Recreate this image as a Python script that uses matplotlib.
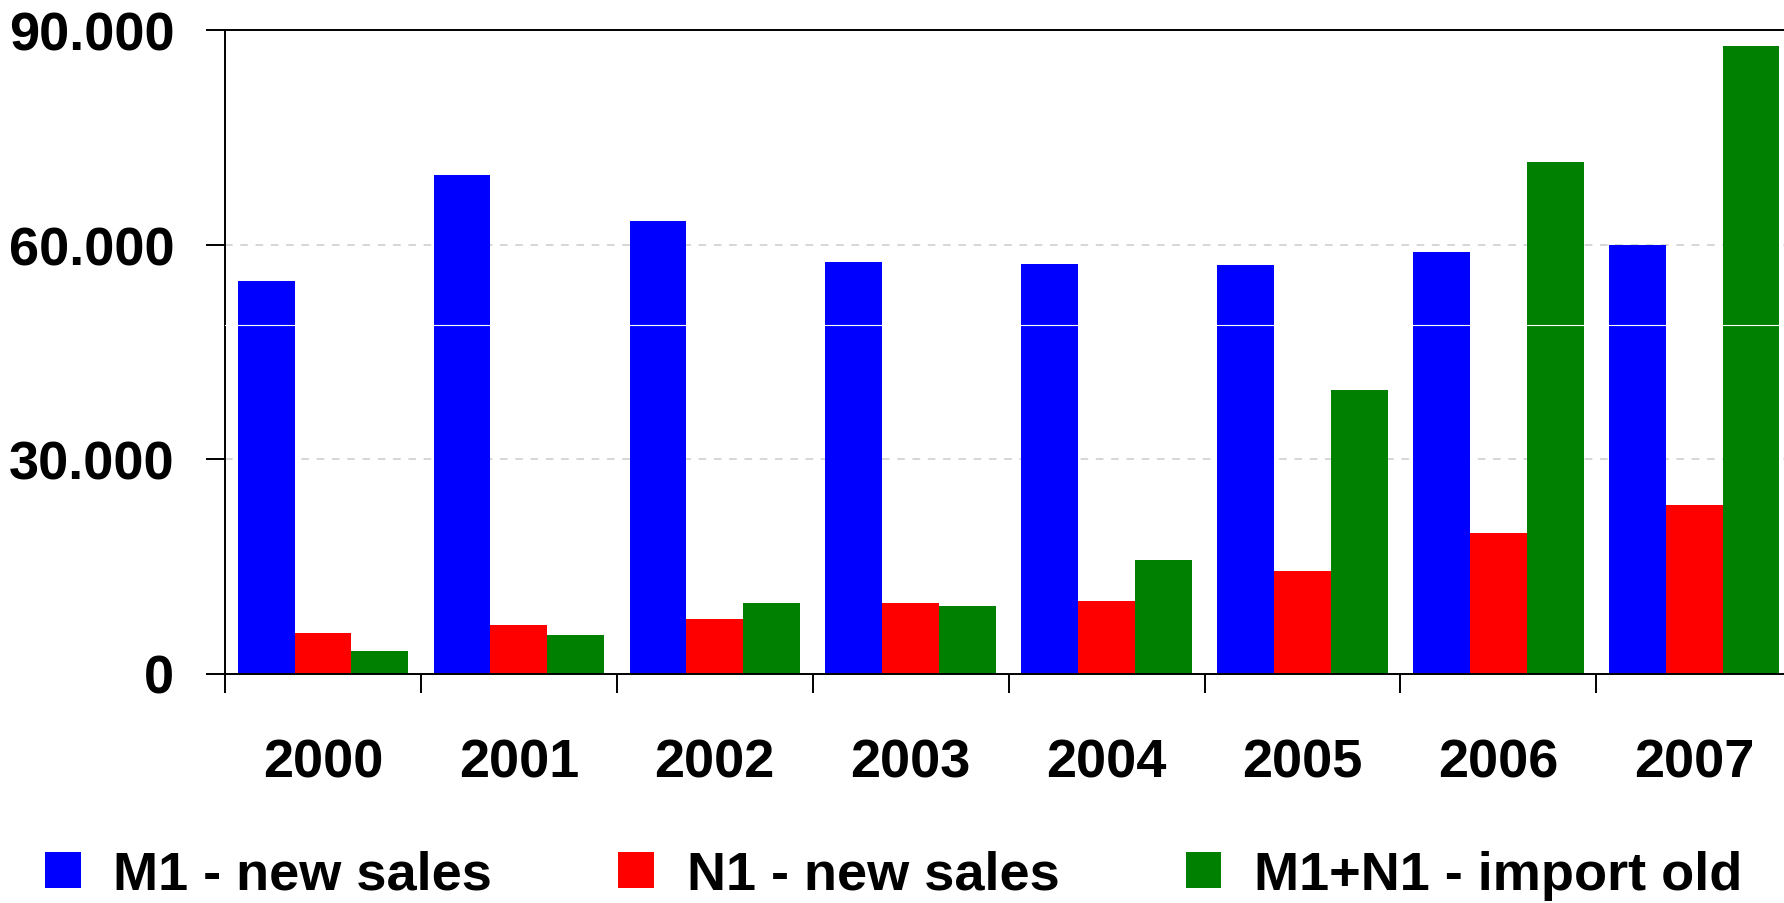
import matplotlib
matplotlib.use("Agg")
import matplotlib.pyplot as plt
from matplotlib.patches import Patch
import numpy as np

years = ["2000", "2001", "2002", "2003", "2004", "2005", "2006", "2007"]
m1_new = [54900, 69700, 63300, 57600, 57300, 57100, 59000, 60000]
n1_new = [5700, 6800, 7600, 9800, 10200, 14300, 19700, 23500]
import_old = [3200, 5400, 9800, 9500, 15900, 39700, 71500, 87800]
series_names = ["M1 - new sales", "N1 - new sales", "M1+N1 - import old"]
y_ticks = [0, 30000, 60000, 90000]
y_labels = ["0", "30.000", "60.000", "90.000"]
white_rule = 48700  # thin white line that cuts across the bars

plt.rcParams["font.family"] = ["Liberation Sans", "DejaVu Sans"]
plt.rcParams["font.weight"] = "bold"
fs = 39

fig = plt.figure(figsize=(17.84, 9.04), dpi=100)
ax = fig.add_axes([225 / 1784, 1 - 674.5 / 904, 1 - 225 / 1784, (674.5 - 31) / 904])

colors = ["#0000ff", "#ff0000", "#008000"]
x = np.arange(len(years))
w = 0.29
for i, (vals, c) in enumerate(zip([m1_new, n1_new, import_old], colors)):
    ax.bar(x + (i - 1) * w, vals, width=w, color=c, zorder=2)

ax.axhline(white_rule, color="white", lw=0.8, zorder=3)
for v in y_ticks[1:-1]:
    ax.axhline(v, color="#cccccc", lw=1.1, ls=(0, (5, 5)), zorder=1)

ax.set_xlim(-0.5, -0.5 + (1784 - 225) / 195.9)
ax.set_ylim(0, 90000)

ax.set_yticks(y_ticks)
ax.set_yticklabels(y_labels)
ax.set_xticks(x)
ax.set_xticklabels(years)
ax.set_xticks(np.arange(len(years)) - 0.5, minor=True)

ax.tick_params(axis="y", length=13.5, width=1.4, pad=23, labelsize=fs)
ax.tick_params(axis="x", which="major", length=0, pad=46, labelsize=fs)
ax.tick_params(axis="x", which="minor", length=13.5, width=1.4)
for lab in ax.get_xticklabels() + ax.get_yticklabels():
    lab.set_fontweight("bold")

for side in ["left", "bottom", "top"]:
    ax.spines[side].set_linewidth(1.4)
ax.spines["right"].set_visible(False)

handles = [Patch(facecolor=c, edgecolor="none") for c in colors]
fig.legend(handles, series_names, loc="center left",
           bbox_to_anchor=(45 / 1784, 1 - 876 / 904), ncol=3, frameon=False,
           prop={"weight": "bold", "size": fs},
           handlelength=0.66, handleheight=0.66, handletextpad=0.6,
           columnspacing=2.33, borderpad=0, borderaxespad=0)

fig.savefig("out.png", dpi=100)
